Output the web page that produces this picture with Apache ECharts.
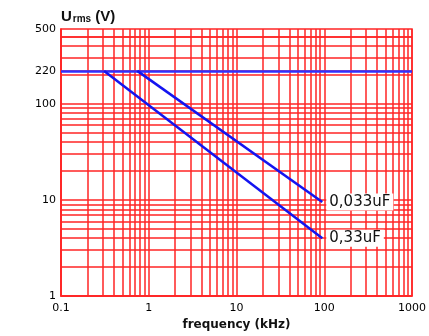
<!DOCTYPE html>
<html><head><meta charset="utf-8">
<script src="https://cdn.jsdelivr.net/npm/echarts@6/dist/echarts.min.js"></script>
<style>html,body{margin:0;padding:0;background:#fff}#c{width:429px;height:336px}</style>
</head><body><div id="c"></div>
<script>
// tick labels
const yTicks = [1, 10, 100, 220, 500];
const xTicks = [0.1, 1, 10, 100, 1000];
// horizontal limit line
const limitVoltage = 220;
// series (frequency in kHz, voltage Urms in V)
const seriesNames = ['0,033uF', '0,33uF'];
const freq033 = [0.74, 95];
const volt033 = [220, 9.5];
const freq33 = [0.31, 95];
const volt33 = [220, 4];

const RED = '#ff2626';
const BLUE = '#1414f0';
const gridLine = { show: true, lineStyle: { color: RED, width: 1.5 } };
const FONT = 'DejaVu Sans';

const chart = echarts.init(document.getElementById('c'), null, { renderer: 'canvas' });
chart.setOption({
  animation: false,
  backgroundColor: '#fff',
  grid: { left: 61, right: 12, top: 29, bottom: 36, show: true, borderColor: RED, borderWidth: 1.5 },
  xAxis: {
    type: 'log', logBase: 10, min: 0.1, max: 1000,
    axisLine: { show: true, lineStyle: { color: RED, width: 1.5 } },
    axisTick: { show: false },
    axisLabel: { customValues: xTicks, fontFamily: FONT, fontSize: 11, color: '#000', margin: 7,
      formatter: v => String(v) },
    splitLine: gridLine,
    minorTick: { show: false, splitNumber: 9 },
    minorSplitLine: gridLine,
    name: 'frequency (kHz)', nameLocation: 'middle', nameGap: 22,
    nameTextStyle: { fontFamily: FONT, fontSize: 12, fontWeight: 'bold', color: '#111', verticalAlign: 'top' }
  },
  yAxis: {
    type: 'log', logBase: 10, min: 1, max: 600,
    axisLine: { show: true, lineStyle: { color: RED, width: 1.5 } },
    axisTick: { show: false, customValues: yTicks },
    axisLabel: { customValues: yTicks, fontFamily: FONT, fontSize: 11, color: '#000', margin: 5,
      formatter: v => (v === 500 ? '{top|500}' : String(v)),
      rich: { top: { fontFamily: FONT, fontSize: 11, color: '#000', padding: [0, 0, 14, 0] } } },
    splitLine: gridLine,
    minorTick: { show: false, splitNumber: 9 },
    minorSplitLine: gridLine,
    name: '{u|U}{s|rms}{u| (V)}', nameLocation: 'end', nameGap: 3,
    nameTextStyle: { align: 'left', verticalAlign: 'bottom',
      rich: {
        u: { fontFamily: 'Liberation Sans', fontSize: 15, fontWeight: 'bold', color: '#111', verticalAlign: 'bottom', lineHeight: 16 },
        s: { fontFamily: 'Liberation Sans', fontSize: 10, fontWeight: 'bold', color: '#111', verticalAlign: 'bottom', lineHeight: 16, padding: [0, 0, 0, 1] }
      } }
  },
  series: [
    {
      name: seriesNames[0], type: 'line', symbol: 'none', z: 5,
      data: freq033.map((f, i) => [f, volt033[i]]),
      lineStyle: { color: BLUE, width: 2.5 },
      endLabel: { show: true, formatter: '{a}', offset: [-4, 0], fontFamily: FONT, fontSize: 15, color: '#111',
        backgroundColor: '#fff', padding: [1, 3] },
      markLine: { silent: true, symbol: 'none', label: { show: false },
        lineStyle: { color: '#3030ff', width: 2.5, type: 'solid' },
        data: [{ yAxis: limitVoltage }] }
    },
    {
      name: seriesNames[1], type: 'line', symbol: 'none', z: 5,
      data: freq33.map((f, i) => [f, volt33[i]]),
      lineStyle: { color: BLUE, width: 2.5 },
      endLabel: { show: true, formatter: '{a}', offset: [-4, 0], fontFamily: FONT, fontSize: 15, color: '#111',
        backgroundColor: '#fff', padding: [1, 3] }
    }
  ]
});
</script></body></html>
